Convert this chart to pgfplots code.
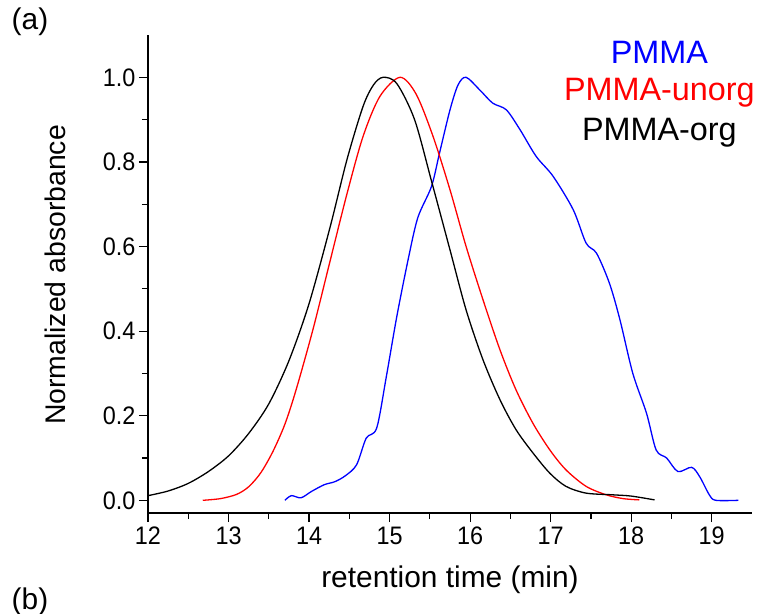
\documentclass[border=0pt]{standalone}
\usepackage{pgfplots}
\pgfplotsset{compat=1.18}
\usepackage{fontspec}
\setmainfont{Liberation Sans}
\begin{document}
\begin{tikzpicture}
\useasboundingbox (-148bp,-101bp) rectangle (612bp,513bp);
\begin{axis}[
  scale only axis, width=604bp, height=478bp,
  xmin=12, xmax=19.5, ymin=-0.03, ymax=1.1,
  axis x line*=bottom, axis y line*=left,
  axis line style={line width=1.2bp, black},
  tick align=outside,
  xtick={12,13,...,19}, minor x tick num=1,
  ytick={0,0.2,0.4,0.6,0.8,1.0}, minor y tick num=1,
  major tick length=9bp, minor tick length=6bp,
  every tick/.style={line width=1.2bp, black},
  /pgf/number format/assume math mode=true,
  yticklabel style={/pgf/number format/.cd, fixed, fixed zerofill, precision=1},
  ticklabel style={font=\fontsize{23.5}{27}\selectfont, yscale=1.08},
  xticklabel style={yshift=-1bp},
  xlabel={retention time (min)},
  ylabel={Normalized absorbance},
  xlabel style={font=\fontsize{30}{34}\selectfont, at={(axis description cs:0.5,-0.14)}, anchor=center},
  ylabel style={font=\fontsize{28.5}{32}\selectfont, at={(axis description cs:-0.154,0.498)}, anchor=center, rotate=0},
  clip=false,
]
\addplot[blue, line width=1.3bp, smooth] coordinates {
(13.70,0.0) (13.78,0.011) (13.90,0.006) (14.03,0.021) (14.19,0.037) (14.32,0.044)
(14.45,0.058) (14.59,0.084) (14.71,0.147) (14.84,0.171) (14.96,0.293) (15.09,0.435)
(15.23,0.569) (15.35,0.668) (15.52,0.742) (15.62,0.821) (15.75,0.923) (15.85,0.982)
(15.95,1.0) (16.12,0.97) (16.28,0.939) (16.45,0.923) (16.62,0.876) (16.82,0.813)
(17.03,0.766) (17.28,0.687) (17.44,0.608) (17.57,0.584) (17.73,0.513) (17.86,0.427)
(18.02,0.30) (18.19,0.206) (18.31,0.119) (18.44,0.10) (18.58,0.068) (18.75,0.078)
(18.85,0.056) (18.97,0.013) (19.05,0.0) (19.33,0.0)
};
\addplot[red, line width=1.3bp, smooth] coordinates {
(12.68,0.0) (12.9,0.004) (13.1,0.014) (13.25,0.032) (13.4,0.065) (13.55,0.115)
(13.7,0.18) (13.84,0.262) (14.05,0.405) (14.26,0.565) (14.47,0.724) (14.67,0.86)
(14.88,0.955) (15.13,1.0) (15.33,0.96) (15.54,0.86) (15.75,0.734) (15.95,0.60)
(16.16,0.474) (16.37,0.356) (16.57,0.261) (16.78,0.182) (16.99,0.119) (17.19,0.072)
(17.44,0.033) (17.69,0.013) (17.9,0.004) (18.10,0.001)
};
\addplot[black, line width=1.3bp, smooth] coordinates {
(12.0,0.011) (12.25,0.022) (12.5,0.040) (12.75,0.068) (13.0,0.105) (13.25,0.158)
(13.5,0.228) (13.75,0.33) (14.0,0.465) (14.26,0.645) (14.47,0.805) (14.67,0.931)
(14.80,0.982) (14.92,1.0) (15.09,0.985) (15.31,0.90) (15.52,0.755) (15.75,0.592)
(15.95,0.45) (16.16,0.332) (16.37,0.238) (16.57,0.167) (16.78,0.112) (16.99,0.064)
(17.19,0.033) (17.44,0.017) (17.77,0.013) (18.0,0.010) (18.29,0.001)
};
\node[blue, font=\fontsize{32.5}{36}\selectfont] at (axis cs:18.35,1.06) {PMMA};
\node[red, font=\fontsize{32.5}{36}\selectfont] at (axis cs:18.35,0.963) {PMMA-unorg};
\node[black, font=\fontsize{32.5}{36}\selectfont] at (axis cs:18.35,0.869) {PMMA-org};
\end{axis}
\node[font=\fontsize{30}{34}\selectfont] at (-118bp,491bp) {(a)};
\node[font=\fontsize{30}{34}\selectfont] at (-118bp,-89bp) {(b)};
\end{tikzpicture}
\end{document}
